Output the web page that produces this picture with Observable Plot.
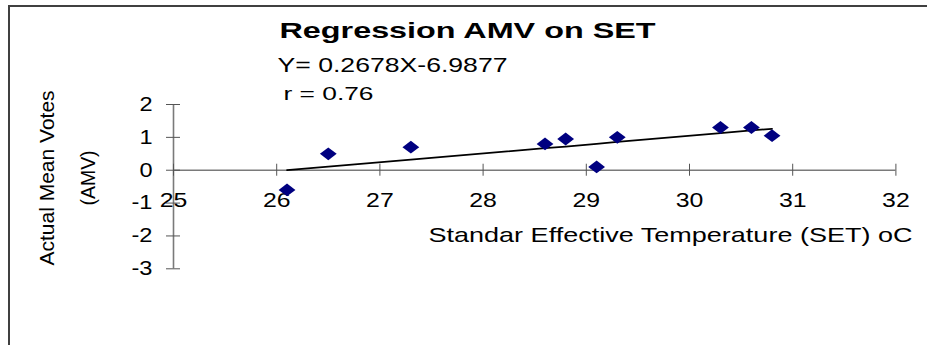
<!DOCTYPE html>
<html><head><meta charset="utf-8">
<script src="https://cdn.jsdelivr.net/npm/d3@7"></script>
<script src="https://cdn.jsdelivr.net/npm/@observablehq/plot@0.6"></script>
<style>
html,body{margin:0;padding:0;background:#fff;}
#wrap{position:relative;width:927px;height:345px;overflow:hidden;}
#border{position:absolute;left:8px;top:5px;width:960px;height:380px;border-top:2px solid #404040;border-left:2px solid #404040;}
#wrap svg{position:absolute;left:0;top:0;}
</style></head><body><div id="wrap"><div id="border"></div></div>
<script>
// Data
const setX = [26.1, 26.5, 27.3, 28.6, 28.8, 29.1, 29.3, 30.3, 30.6, 30.8];
const amv = [-0.6, 0.5, 0.7, 0.8, 0.95, 0.1, 1.0, 1.3, 1.3, 1.05];
const fitted = [0.00, 0.11, 0.32, 0.67, 0.72, 0.80, 0.86, 1.13, 1.21, 1.26];
const xTicks = [25, 26, 27, 28, 29, 30, 31, 32];
const yTicks = [-3, -2, -1, 0, 1, 2];
const titleText = "Regression AMV on SET";
const equationText = "Y= 0.2678X-6.9877";
const rText = "r = 0.76";
const xLabel = "Standar Effective Temperature (SET) oC";
const yLabel1 = "Actual Mean Votes";
const yLabel2 = "(AMV)";

const points = setX.map((x, i) => ({x, y: amv[i]}));
const fitLine = setX.map((x, i) => ({x, y: fitted[i]}));

const diamond = {
  draw(context, size) {
    const r = Math.sqrt(size / Math.PI);
    const h = r * 0.76;
    context.moveTo(-r, 0);
    context.lineTo(0, -h);
    context.lineTo(r, 0);
    context.lineTo(0, h);
    context.closePath();
  }
};

const axisColor = "#7a7a7a";

const chart = Plot.plot({
  width: 927,
  height: 345,
  marginLeft: 173,
  marginRight: 31.6,
  marginTop: 104,
  marginBottom: 76.7,
  style: {fontFamily: "'Liberation Sans', Arial, sans-serif", background: "transparent", overflow: "visible"},
  x: {domain: [25, 32], axis: null},
  y: {domain: [-3, 2], axis: null},
  marks: [
    Plot.ruleY([0], {x1: 25, x2: 32, stroke: axisColor, strokeWidth: 1.6}),
    Plot.ruleX([25], {y1: -3, y2: 2, stroke: axisColor, strokeWidth: 1.6}),
    Plot.ruleX(xTicks, {x: d => d, y1: 0, y2: 0, insetTop: -6, insetBottom: -6, stroke: "#555", strokeWidth: 1}),
    Plot.ruleY(yTicks, {y: d => d, x1: 25, x2: 25, insetLeft: -7, insetRight: -7, stroke: "#555", strokeWidth: 1}),
    Plot.text(xTicks, {x: d => d, y: 0, text: d => String(d), dy: 37, lineAnchor: "bottom", fontSize: 21, fill: "black"}),
    Plot.text(yTicks, {x: 25, y: d => d, text: d => String(d), dx: -21, textAnchor: "end", lineAnchor: "middle", fontSize: 20, fill: "black"}),
    Plot.line(fitLine, {x: "x", y: "y", stroke: "black", strokeWidth: 1.7}),
    Plot.dot(points, {x: "x", y: "y", r: 8.4, symbol: diamond, fill: "#000080", stroke: "none"}),
    Plot.text([titleText], {frameAnchor: "top-left", dx: 106, dy: -66.5, textAnchor: "start", lineAnchor: "bottom", fontSize: 22, fontWeight: "bold", fill: "black"}),
    Plot.text([equationText], {frameAnchor: "top-left", dx: 104, dy: -32.5, textAnchor: "start", lineAnchor: "bottom", fontSize: 21, fill: "black"}),
    Plot.text([rText], {frameAnchor: "top-left", dx: 110, dy: -4.7, textAnchor: "start", lineAnchor: "bottom", fontSize: 19, fill: "black"}),
    Plot.text([xLabel], {frameAnchor: "top-left", dx: 255, dy: 137.7, textAnchor: "start", lineAnchor: "bottom", fontSize: 21, fill: "black"}),
    Plot.text([yLabel1], {frameAnchor: "left", dx: -120, dy: -8.7, rotate: -90, textAnchor: "middle", lineAnchor: "bottom", fontSize: 21, fill: "black"}),
    Plot.text([yLabel2], {frameAnchor: "left", dx: -79, dy: -8.7, rotate: -90, textAnchor: "middle", lineAnchor: "bottom", fontSize: 21, fill: "black"})
  ]
});

document.getElementById("wrap").appendChild(chart);

// Stretch texts to match the wide Excel-style rendering
const widths = new Map([[titleText, 376], [equationText, 230], [rText, 90], [xLabel, 484], [yLabel1, 175], [yLabel2, 55]]);
const tickStrings = new Set([...xTicks, ...yTicks].map(String));
chart.querySelectorAll("text").forEach(t => {
  const s = t.textContent;
  let w = null;
  if (widths.has(s)) w = widths.get(s);
  else if (tickStrings.has(s)) w = t.getComputedTextLength() * 1.18;
  if (w != null) {
    t.setAttribute("textLength", w.toFixed(1));
    t.setAttribute("lengthAdjust", "spacingAndGlyphs");
  }
});
</script>
</body></html>
